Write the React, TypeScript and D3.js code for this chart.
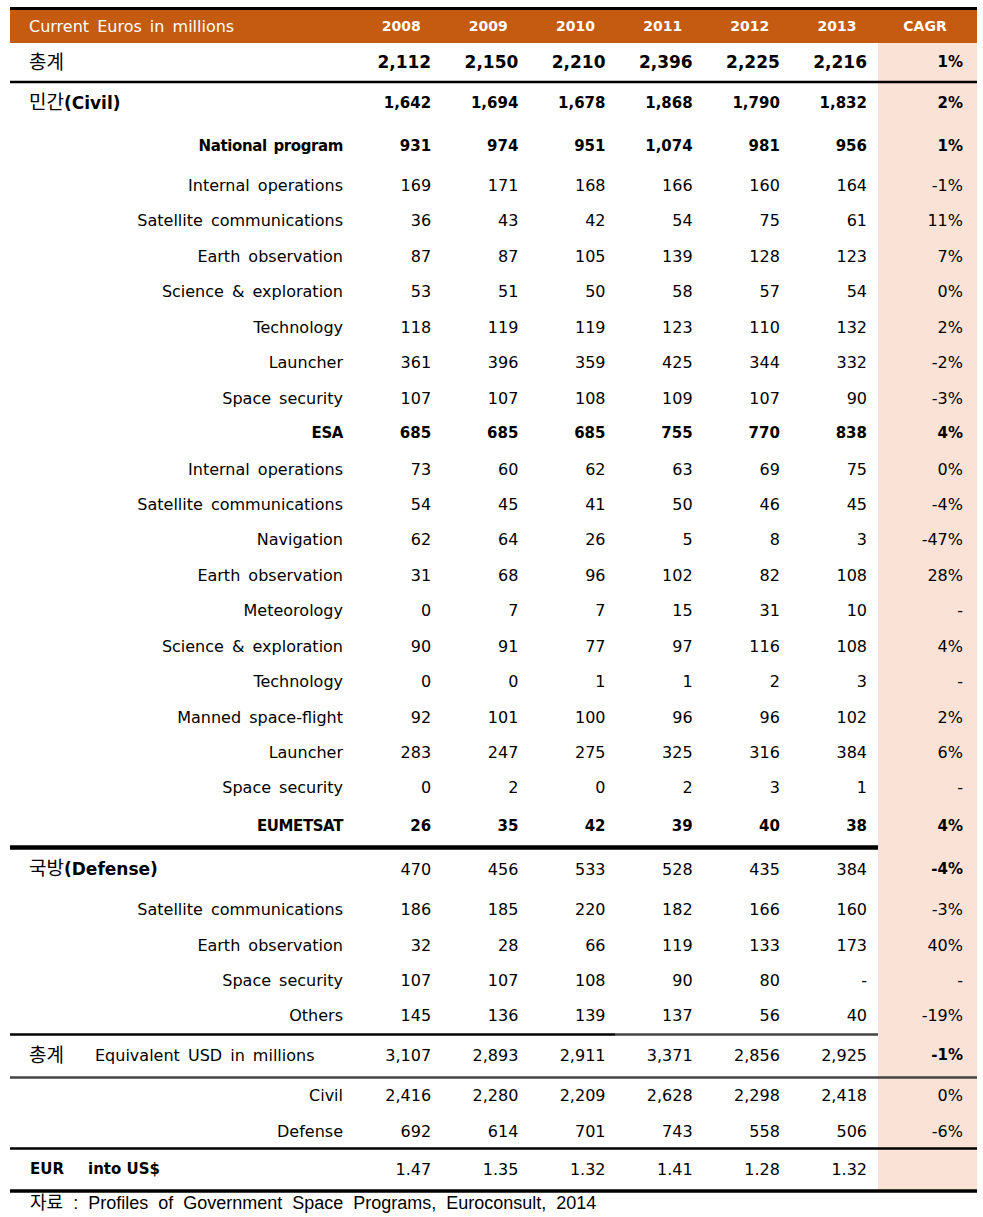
import React from 'react';
import * as d3 from 'd3';

const years = ['2008', '2009', '2010', '2011', '2012', '2013'];
const headerTitle = 'Current Euros in millions';
const cagrTitle = 'CAGR';

const rowLabels: string[] = [
  '총계', '민간|(Civil)', 'National program', 'Internal operations', 'Satellite communications',
  'Earth observation', 'Science & exploration', 'Technology', 'Launcher', 'Space security',
  'ESA', 'Internal operations', 'Satellite communications', 'Navigation', 'Earth observation',
  'Meteorology', 'Science & exploration', 'Technology', 'Manned space-flight', 'Launcher',
  'Space security', 'EUMETSAT', '국방|(Defense)', 'Satellite communications', 'Earth observation',
  'Space security', 'Others', '총계|Equivalent USD in millions', 'Civil', 'Defense', 'EUR|into US$',
];

const rowKinds: string[] = [
  'total', 'major', 'sub', 'item', 'item', 'item', 'item', 'item', 'item', 'item',
  'sub', 'item', 'item', 'item', 'item', 'item', 'item', 'item', 'item', 'item',
  'item', 'sub', 'majorPlain', 'item', 'item', 'item', 'item', 'usd', 'item', 'item', 'fx',
];

const rowValues: string[][] = [
  ['2,112', '2,150', '2,210', '2,396', '2,225', '2,216'],
  ['1,642', '1,694', '1,678', '1,868', '1,790', '1,832'],
  ['931', '974', '951', '1,074', '981', '956'],
  ['169', '171', '168', '166', '160', '164'],
  ['36', '43', '42', '54', '75', '61'],
  ['87', '87', '105', '139', '128', '123'],
  ['53', '51', '50', '58', '57', '54'],
  ['118', '119', '119', '123', '110', '132'],
  ['361', '396', '359', '425', '344', '332'],
  ['107', '107', '108', '109', '107', '90'],
  ['685', '685', '685', '755', '770', '838'],
  ['73', '60', '62', '63', '69', '75'],
  ['54', '45', '41', '50', '46', '45'],
  ['62', '64', '26', '5', '8', '3'],
  ['31', '68', '96', '102', '82', '108'],
  ['0', '7', '7', '15', '31', '10'],
  ['90', '91', '77', '97', '116', '108'],
  ['0', '0', '1', '1', '2', '3'],
  ['92', '101', '100', '96', '96', '102'],
  ['283', '247', '275', '325', '316', '384'],
  ['0', '2', '0', '2', '3', '1'],
  ['26', '35', '42', '39', '40', '38'],
  ['470', '456', '533', '528', '435', '384'],
  ['186', '185', '220', '182', '166', '160'],
  ['32', '28', '66', '119', '133', '173'],
  ['107', '107', '108', '90', '80', '-'],
  ['145', '136', '139', '137', '56', '40'],
  ['3,107', '2,893', '2,911', '3,371', '2,856', '2,925'],
  ['2,416', '2,280', '2,209', '2,628', '2,298', '2,418'],
  ['692', '614', '701', '743', '558', '506'],
  ['1.47', '1.35', '1.32', '1.41', '1.28', '1.32'],
];

const cagrValues: string[] = [
  '1%', '2%', '1%', '-1%', '11%', '7%', '0%', '2%', '-2%', '-3%',
  '4%', '0%', '-4%', '-47%', '28%', '-', '4%', '-', '2%', '6%',
  '-', '4%', '-4%', '-3%', '40%', '-', '-19%', '-1%', '0%', '-6%', '',
];

const sourceNote = '자료 : Profiles of Government Space Programs, Euroconsult, 2014';

// layout
const W = 983;
const H = 1217;
const L = 10;
const R = 977;
const PINK_X = 878;
const LABEL_R = 343;
const rowGaps = [62, 41, 43, 39, 35, 36, 35, 36, 35, 36, 35, 36, 35, 35, 36, 35, 36, 35, 36, 35, 35, 39, 43, 40, 36, 35, 35, 40, 40, 36, 38];
const rowY = d3.cumsum(rowGaps);

const FONT = '"DejaVu Sans", Verdana, sans-serif';
const KFONT = '"Noto Sans CJK KR", sans-serif';
const ORANGE = '#C55A11';
const PINK = '#FBE2D6';

const x = d3.scaleBand<string>().domain(years).range([344, 867]).paddingInner(0).paddingOuter(0);
const colRight = (yr: string) => (x(yr) as number) + x.bandwidth();

function Label({ i, y }: { i: number; y: number }) {
  const kind = rowKinds[i];
  const lab = rowLabels[i];
  if (kind === 'total') {
    return <text x={29} y={y} dy="0.36em" fontFamily={KFONT} fontSize={19}>{lab}</text>;
  }
  if (kind === 'major' || kind === 'majorPlain') {
    const [k, e] = lab.split('|');
    return (
      <text x={29} y={y} dy="0.36em">
        <tspan fontFamily={KFONT} fontSize={19}>{k}</tspan>
        <tspan fontFamily={FONT} fontWeight="bold" fontSize={17}>{e}</tspan>
      </text>
    );
  }
  if (kind === 'usd') {
    const [k, e] = lab.split('|');
    return (
      <g>
        <text x={29} y={y} dy="0.36em" fontFamily={KFONT} fontSize={19}>{k}</text>
        <text x={95} y={y} dy="0.36em" fontFamily={FONT} fontSize={16} wordSpacing={3}>{e}</text>
      </g>
    );
  }
  if (kind === 'fx') {
    const [a, b] = lab.split('|');
    return (
      <g fontFamily={FONT} fontWeight="bold" fontSize={15}>
        <text x={30} y={y} dy="0.36em">{a}</text>
        <text x={88} y={y} dy="0.36em">{b}</text>
      </g>
    );
  }
  if (kind === 'sub') {
    return (
      <text x={LABEL_R} y={y} dy="0.36em" textAnchor="end" fontFamily={FONT}
        fontSize={15} fontWeight="bold" letterSpacing={-0.4} wordSpacing={2}>
        {lab}
      </text>
    );
  }
  return (
    <text x={LABEL_R} y={y} dy="0.36em" textAnchor="end" fontFamily={FONT}
      fontSize={16} wordSpacing={3}>
      {lab}
    </text>
  );
}

export default function App() {
  return (
    <svg width={W} height={H} viewBox={`0 0 ${W} ${H}`}
      style={{ position: 'absolute', left: 0, top: 0, background: '#fff' }}>
      <rect x={0} y={0} width={W} height={H} fill="#fff" />
      {/* pink CAGR column */}
      <rect x={PINK_X} y={43} width={R - PINK_X} height={1148} fill={PINK} />
      {/* header */}
      <rect x={L} y={7} width={R - L} height={3} fill="#000" />
      <rect x={L} y={10} width={R - L} height={33} fill={ORANGE} />
      <text x={29} y={26} dy="0.36em" fill="#fff" fontFamily={FONT} fontSize={16} wordSpacing={3}>{headerTitle}</text>
      {years.map((yr) => (
        <text key={yr} x={colRight(yr) - 30} y={26} dy="0.36em" fill="#fff" fontFamily={FONT}
          fontWeight="bold" fontSize={14} textAnchor="middle">{yr}</text>
      ))}
      <text x={925} y={26} dy="0.36em" fill="#fff" fontFamily={FONT} fontWeight="bold" fontSize={14} textAnchor="middle">{cagrTitle}</text>

      {/* rows */}
      {rowLabels.map((_, i) => {
        const y = rowY[i];
        const kind = rowKinds[i];
        const boldVals = kind === 'total' || kind === 'major' || kind === 'sub';
        const valSize = kind === 'total' ? 17 : boldVals ? 15 : 16;
        const boldCagr = boldVals || kind === 'majorPlain' || kind === 'usd';
        return (
          <g key={i}>
            <Label i={i} y={y} />
            {years.map((yr, j) => (
              <text key={yr} x={colRight(yr)} y={y} dy="0.36em" textAnchor="end" fontFamily={FONT}
                fontSize={valSize} fontWeight={boldVals ? 'bold' : 'normal'}>{rowValues[i][j]}</text>
            ))}
            <text x={963} y={y} dy="0.36em" textAnchor="end" fontFamily={FONT}
              fontSize={boldCagr ? 15 : 16} fontWeight={boldCagr ? 'bold' : 'normal'}>{cagrValues[i]}</text>
          </g>
        );
      })}

      {/* rules */}
      <line x1={L} x2={R} y1={82} y2={82} stroke="#000" strokeWidth={2.5} />
      <line x1={L} x2={PINK_X} y1={847.5} y2={847.5} stroke="#000" strokeWidth={4.5} />
      <line x1={L} x2={615} y1={1034.5} y2={1034.5} stroke="#000" strokeWidth={2.5} />
      <line x1={615} x2={PINK_X} y1={1034.5} y2={1034.5} stroke="#444" strokeWidth={2.5} />
      <line x1={L} x2={R} y1={1077.5} y2={1077.5} stroke="#444" strokeWidth={2.5} />
      <line x1={L} x2={R} y1={1148.5} y2={1148.5} stroke="#000" strokeWidth={2.5} />
      <line x1={L} x2={R} y1={1191} y2={1191} stroke="#000" strokeWidth={3.5} />

      {/* source */}
      <text x={30} y={1203} dy="0.36em" fontFamily='"Liberation Sans", Arial, sans-serif' fontSize={18} wordSpacing={5}>
        <tspan fontFamily={KFONT}>{sourceNote.slice(0, 2)}</tspan>
        <tspan>{sourceNote.slice(2)}</tspan>
      </text>
    </svg>
  );
}
